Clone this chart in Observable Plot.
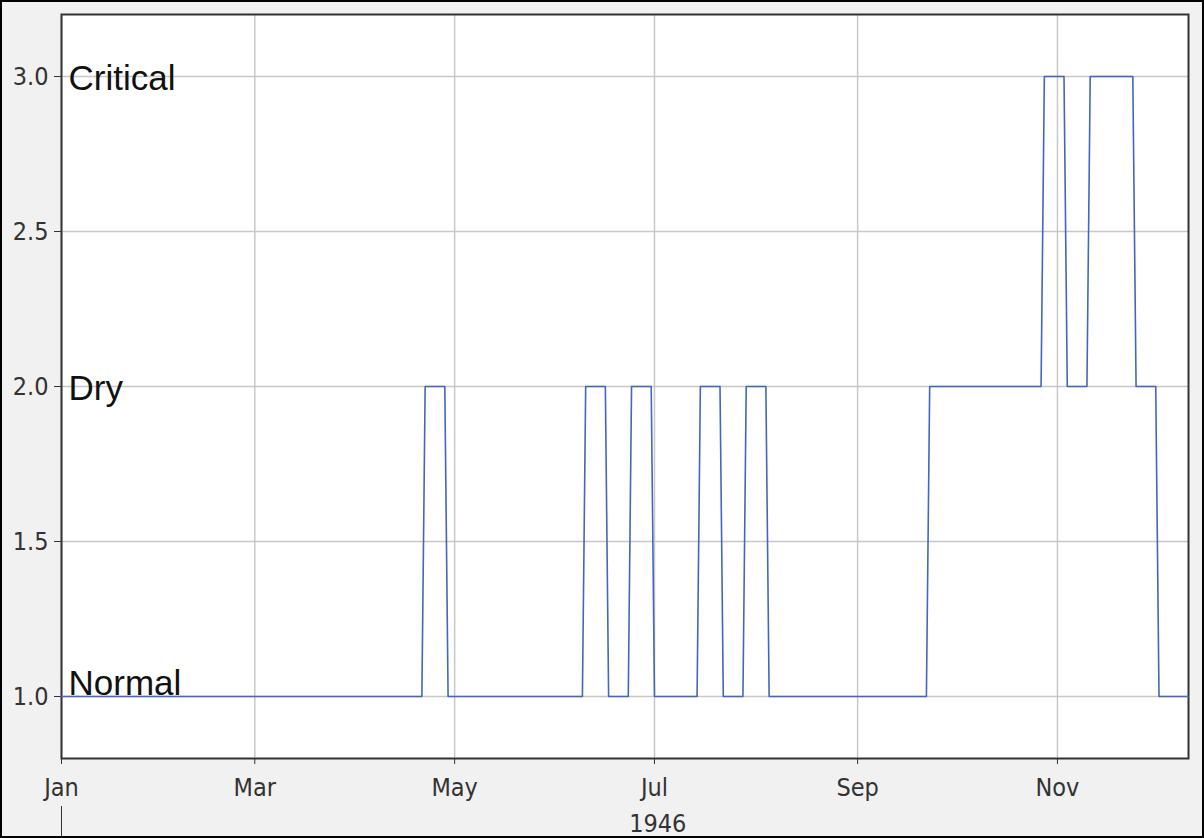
<!DOCTYPE html>
<html><head><meta charset="utf-8">
<script src="https://cdn.jsdelivr.net/npm/d3@7"></script>
<script src="https://cdn.jsdelivr.net/npm/@observablehq/plot@0.6"></script>
<style>
html,body{margin:0;padding:0;background:#fff}
#box{width:1204px;height:838px;box-sizing:border-box;border:2px solid #000;background:#f0f1f0;overflow:hidden}
#box svg{display:block}
</style></head><body><div id="box"></div>
<script>
// Vertices of the daily drought-level series (1946)
const dates = [
  "1946-01-01","1946-04-21","1946-04-22","1946-04-28","1946-04-29",
  "1946-06-09","1946-06-10","1946-06-16","1946-06-17",
  "1946-06-23","1946-06-24","1946-06-30","1946-07-01",
  "1946-07-14","1946-07-15","1946-07-21","1946-07-22",
  "1946-07-28","1946-07-29","1946-08-04","1946-08-05",
  "1946-09-22","1946-09-23","1946-10-27","1946-10-28",
  "1946-11-03","1946-11-04","1946-11-10","1946-11-11",
  "1946-11-24","1946-11-25","1946-12-01","1946-12-02","1946-12-11"
];
const levels = [
  1,1,2,2,1,
  1,2,2,1,
  1,2,2,1,
  1,2,2,1,
  1,2,2,1,
  1,2,2,3,
  3,2,2,3,
  3,2,2,1,1
];
const xTickDates = ["1946-01-01","1946-03-01","1946-05-01","1946-07-01","1946-09-01","1946-11-01"];
const yTicks = [1.0, 1.5, 2.0, 2.5, 3.0];
const levelNames = ["Normal", "Dry", "Critical"];
const levelValues = [1, 2, 3];
const yearLabel = "1946";
const yearStart = "1946-01-01";
const yearMid = "1946-07-02";

const P = d3.utcParse("%Y-%m-%d");
const idx = d3.range(dates.length);
const startDate = P(dates[0]);
const endDate = P(dates[dates.length - 1]);
const narrow = "'Liberation Sans Narrow', 'Arial Narrow', 'DejaVu Sans Condensed', sans-serif";
const sans = "'Liberation Sans', Arial, sans-serif";
const grid = {stroke: "#c8c8c8", strokeOpacity: 1, strokeWidth: 1.5};

const chart = Plot.plot({
  width: 1200, height: 834,
  marginLeft: 59, marginTop: 12, marginRight: 14, marginBottom: 78,
  style: {background: "#f0f1f0", fontFamily: narrow, fontSize: "25px", color: "#333", overflow: "visible"},
  x: {type: "utc", domain: [startDate, endDate]},
  y: {domain: [0.8, 3.2]},
  marks: [
    Plot.frame({fill: "white", stroke: null}),
    Plot.gridX(xTickDates.map(P), grid),
    Plot.gridY(yTicks, grid),
    Plot.axisY(yTicks, {tickSize: 7, tickPadding: 6, tickFormat: d3.format(".1f"), label: null, stroke: "#333", fill: "#333"}),
    Plot.axisX(xTickDates.map(P), {tickSize: 6, tickPadding: 14, tickFormat: d3.utcFormat("%b"), label: null, stroke: "#333", fill: "#333"}),
    Plot.axisX([P(yearStart)], {tickSize: 32, dy: 48, tickFormat: () => "", label: null, stroke: "#333"}),
    Plot.text([yearLabel], {x: () => P(yearMid), frameAnchor: "bottom", dy: 65, lineAnchor: "middle", text: d => d, fill: "#333"}),
    Plot.frame({stroke: "#333", strokeWidth: 2}),
    Plot.line(idx, {x: i => P(dates[i]), y: i => levels[i], stroke: "#4466bd", strokeWidth: 1.6}),
    Plot.text(levelValues.filter(v => v > 1), {x: () => startDate, y: d => d, text: d => levelNames[levelValues.indexOf(d)], textAnchor: "start", lineAnchor: "middle", dx: 7, dy: 2, fontFamily: sans, fontSize: 35, fill: "#111"}),
    Plot.text(levelValues.filter(v => v === 1), {x: () => startDate, y: d => d, text: d => levelNames[levelValues.indexOf(d)], textAnchor: "start", lineAnchor: "middle", dx: 7, dy: -13, fontFamily: sans, fontSize: 35, fill: "#111"})
  ]
});
document.getElementById("box").appendChild(chart);
</script>
</body></html>
